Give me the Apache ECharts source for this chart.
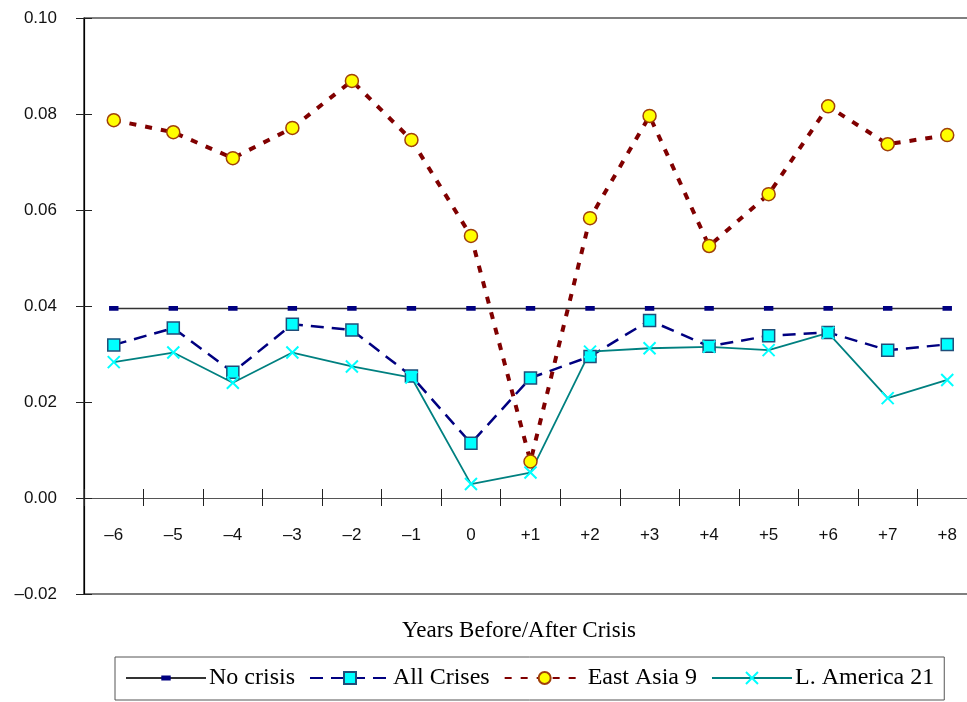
<!DOCTYPE html>
<html>
<head>
<meta charset="utf-8">
<script src="https://cdn.jsdelivr.net/npm/echarts@6/dist/echarts.min.js"></script>
<style>html,body{margin:0;padding:0;background:#fff}#c{width:967px;height:702px}</style>
</head>
<body>
<div id="c"></div>
<script>
const categories = ['–6','–5','–4','–3','–2','–1','0','+1','+2','+3','+4','+5','+6','+7','+8'];
const noCrisis = [0.0395,0.0395,0.0395,0.0395,0.0395,0.0395,0.0395,0.0395,0.0395,0.0395,0.0395,0.0395,0.0395,0.0395,0.0395];
const allCrises = [0.0319,0.0354,0.0262,0.0362,0.0350,0.0254,0.0114,0.0250,0.0295,0.0370,0.0316,0.0338,0.0345,0.0308,0.0320];
const eastAsia9 = [0.0787,0.0762,0.0708,0.0771,0.0869,0.0746,0.0546,0.0076,0.0583,0.0796,0.0525,0.0633,0.0816,0.0737,0.0756];
const latAm21 = [0.0283,0.0303,0.0240,0.0303,0.0274,0.0251,0.0029,0.0053,0.0305,0.0312,0.0315,0.0308,0.0344,0.0208,0.0246];
const yTicks = {min:-0.02, max:0.10, interval:0.02};
const seriesNames = ['No crisis','All Crises','East Asia 9','L. America 21'];

const chart = echarts.init(document.getElementById('c'));
const fmtY = v => (v < 0 ? '–' : '') + Math.abs(v).toFixed(2);
const smallRect = 'path://M0,0h0.01v0.01h-0.01z M13.99,13.99h0.01v0.01h-0.01z M1.5,4.2h11v5.6h-11z';
chart.setOption({
  animation:false,
  grid:{left:84, top:18, width:893, height:576, outerBoundsMode:'none', show:true, borderColor:'#000', borderWidth:1.2, backgroundColor:'transparent'},
  graphic:[{type:'text', x:519, y:631, style:{text:'Years Before/After Crisis', font:'23px "Liberation Serif"', fill:'#000', textAlign:'center', textVerticalAlign:'middle'}}],
  legend:{
    left:115, top:657,
    data:seriesNames,
    orient:'horizontal',
    padding:[9,10,10,10],
    borderColor:'#555', borderWidth:1,
    itemWidth:80, itemHeight:15, itemGap:14,
    textStyle:{fontFamily:'Liberation Serif', fontSize:24, color:'#000', padding:[0,0,0,-2]}
  },
  xAxis:[{
    type:'category', data:categories, boundaryGap:true,
    axisLine:{onZero:true, lineStyle:{color:'#555', width:1.2}},
    axisTick:{show:true, inside:false, length:8, lineStyle:{color:'#222'}},
    axisLabel:{margin:-67, fontFamily:'Liberation Sans', fontSize:17, color:'#111'},
    splitLine:{show:false}
  },{
    type:'category', data:categories, boundaryGap:true, position:'bottom',
    axisLine:{show:false, onZero:true},
    axisTick:{show:true, inside:true, length:9, lineStyle:{color:'#222'}},
    axisLabel:{show:false}, splitLine:{show:false}
  }],
  yAxis:[{
    type:'value', min:yTicks.min, max:yTicks.max, interval:yTicks.interval,
    axisLine:{show:true, lineStyle:{color:'#000', width:1.2}},
    axisTick:{show:true, inside:false, length:8, lineStyle:{color:'#222'}},
    axisLabel:{margin:27, fontFamily:'Liberation Sans', fontSize:17, color:'#111', formatter:fmtY},
    splitLine:{show:false}
  },{
    type:'value', min:yTicks.min, max:yTicks.max, interval:yTicks.interval, position:'left',
    axisLine:{show:false},
    axisTick:{show:true, inside:true, length:8, lineStyle:{color:'#222'}},
    axisLabel:{show:false}, splitLine:{show:false}
  }],
  series:[
    {name:seriesNames[0], type:'line', data:noCrisis, symbol:smallRect, symbolSize:12,
     lineStyle:{color:'#333', width:1.5}, itemStyle:{color:'#000080', borderColor:'#000080', borderWidth:0}},
    {name:seriesNames[1], type:'line', data:allCrises, symbol:'rect', symbolSize:12,
     lineStyle:{color:'#000080', width:2.5, type:[13,8]}, itemStyle:{color:'#00FFFF', borderColor:'#1F4E79', borderWidth:1.5}},
    {name:seriesNames[2], type:'line', data:eastAsia9, symbol:'circle', symbolSize:13,
     lineStyle:{color:'#800000', width:4, type:[7,9]}, itemStyle:{color:'#FFFF00', borderColor:'#A0400A', borderWidth:1.5}},
    {name:seriesNames[3], type:'line', data:latAm21, symbol:'path://M0,0L10,10M10,0L0,10', symbolSize:12,
     lineStyle:{color:'#008080', width:1.8}, itemStyle:{color:'#00FFFF', borderColor:'#00FFFF', borderWidth:2}}
  ]
});
</script>
</body>
</html>
